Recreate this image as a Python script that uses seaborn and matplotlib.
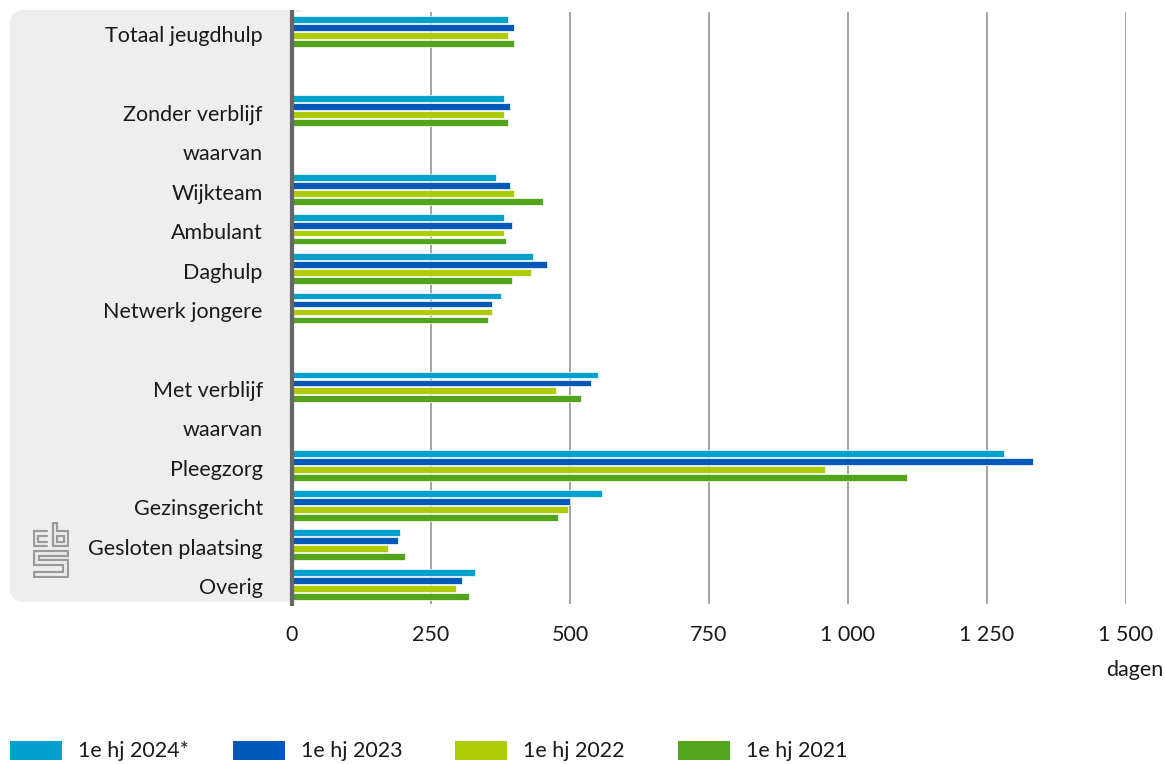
import numpy as np
import pandas as pd
import seaborn as sns
import matplotlib.pyplot as plt
import matplotlib.transforms as mtransforms
from matplotlib.patches import FancyBboxPatch, Rectangle

# Gemiddelde duur jeugdhulptrajecten (dagen)
categorieen = ["Totaal jeugdhulp", " ", "Zonder verblijf", "waarvan", "Wijkteam",
               "Ambulant", "Daghulp", "Netwerk jongere", "  ", "Met verblijf",
               "waarvan ", "Pleegzorg", "Gezinsgericht", "Gesloten plaatsing", "Overig"]
jaren = ["1e hj 2024*", "1e hj 2023", "1e hj 2022", "1e hj 2021"]
kleuren = ["#00a1cd", "#0058b8", "#afcb05", "#53a31d"]

nan = np.nan
dagen_2024 = [388, nan, 382, nan, 367, 382, 433, 375, nan, 551, nan, 1280, 558, 194, 329]
dagen_2023 = [399, nan, 392, nan, 392, 396, 458, 360, nan, 538, nan, 1333, 500, 191, 305]
dagen_2022 = [388, nan, 382, nan, 399, 382, 429, 360, nan, 475, nan, 958, 496, 173, 295]
dagen_2021 = [399, nan, 388, nan, 451, 385, 396, 353, nan, 520, nan, 1107, 478, 204, 319]

xticks = [0, 250, 500, 750, 1000, 1250, 1500]

df = pd.DataFrame({
    "categorie": categorieen * 4,
    "jaar": np.repeat(jaren, len(categorieen)),
    "dagen": dagen_2024 + dagen_2023 + dagen_2022 + dagen_2021,
})

sns.set_theme(style="white")
plt.rcParams["font.family"] = ["Lato", "DejaVu Sans"]
tekstkleur = "#1a1a1a"
fs = 15.5

W, H = 1165, 764
fig = plt.figure(figsize=(W / 100, H / 100), dpi=100)

# grijs vlak achter de labels
paneel = FancyBboxPatch((0.10, (H - 602) / 100), 3.0, 5.92,
                        boxstyle="round,pad=0,rounding_size=0.14",
                        transform=fig.dpi_scale_trans, facecolor="#eeeeee",
                        edgecolor="none", zorder=-1)
fig.patches.append(paneel)

ax = fig.add_axes([292 / W, 1 - 604 / H, (1126 - 292) / W, 592 / H])
sns.barplot(data=df, y="categorie", x="dagen", hue="jaar", order=categorieen,
            hue_order=jaren, palette=kleuren, saturation=1, orient="h",
            width=0.81, gap=0.14, errorbar=None, legend=False,
            edgecolor="white", linewidth=0.5, ax=ax)

ax.set_xlim(0, 1500)
ax.set_ylim(len(categorieen) - 0.5, -0.5)
ax.set_xticks(xticks)
ax.set_xticklabels([f"{t:,}".replace(",", " ") for t in xticks])
ax.set_yticks(range(len(categorieen)))
ax.set_yticklabels([c.strip() for c in categorieen])
ax.tick_params(axis="y", length=0, pad=21, labelsize=fs, labelcolor=tekstkleur)
ax.tick_params(axis="x", length=0, pad=15, labelsize=fs, labelcolor=tekstkleur)
omlaag = mtransforms.ScaledTranslation(0, -1.5 / 72, fig.dpi_scale_trans)
for lab in ax.get_yticklabels():
    lab.set_transform(lab.get_transform() + omlaag)
ax.set_xlabel("")
ax.set_ylabel("")
ax.xaxis.grid(True, color="#8c8c8c", linewidth=1.1)
ax.set_axisbelow(True)
for s in ["top", "right", "bottom"]:
    ax.spines[s].set_visible(False)
ax.spines["left"].set_color("#666666")
ax.spines["left"].set_linewidth(3)
ax.spines["left"].set_zorder(5)

fig.text(1163 / W, 1 - 670 / H, "dagen", ha="right", va="center",
         fontsize=fs, color=tekstkleur)

# CBS-logo (vereenvoudigd)
lax = fig.add_axes([33 / W, 1 - 578 / H, 36 / W, 56 / H])
lax.set_xlim(-3, 108)
lax.set_ylim(165, -3)
lax.axis("off")
logo = [
    [(40, 25), (0, 25), (0, 70), (40, 70)],
    [(40, 38), (13, 38), (13, 57), (40, 57)],
    [(60, 0), (60, 70), (105, 70), (105, 25), (72, 25), (72, 0), (60, 0)],
    [(72, 38), (92, 38), (92, 57), (72, 57), (72, 38)],
    [(105, 85), (0, 85), (0, 125), (90, 125), (90, 148), (0, 148), (0, 162),
     (105, 162), (105, 112), (14, 112), (14, 99), (105, 99), (105, 85)],
]
for pad in logo:
    xs, ys = zip(*pad)
    lax.plot(xs, ys, color="#9a9a9a", linewidth=1.6, solid_joinstyle="miter")

# legenda
for i, (jaar, kleur) in enumerate(zip(jaren, kleuren)):
    x0 = 10 + 222.7 * i
    fig.patches.append(Rectangle((x0 / 100, (H - 760) / 100), 0.52, 0.19,
                                 transform=fig.dpi_scale_trans,
                                 facecolor=kleur, edgecolor="none"))
    fig.text((x0 + 68) / W, 1 - 751 / H, jaar, ha="left", va="center",
             fontsize=fs, color=tekstkleur)

fig.savefig("out.png", dpi=100)
